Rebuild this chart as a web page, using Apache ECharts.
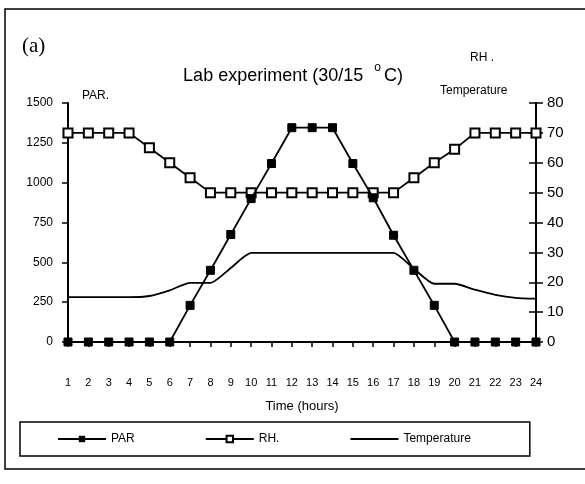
<!DOCTYPE html>
<html>
<head>
<meta charset="utf-8">
<script src="https://cdn.jsdelivr.net/npm/echarts@6/dist/echarts.min.js"></script>
<style>
  html, body { margin: 0; padding: 0; background: #fff; }
  #chart { width: 585px; height: 484px; }
</style>
</head>
<body>
<div id="chart"></div>
<script>
// hours of the day
const hours = ['1','2','3','4','5','6','7','8','9','10','11','12','13','14','15','16','17','18','19','20','21','22','23','24'];
// PAR (left axis)
const parValues = [0, 0, 0, 0, 0, 0, 230, 450, 675, 900, 1120, 1345, 1345, 1345, 1120, 905, 670, 450, 230, 0, 0, 0, 0, 0];
// RH (right axis)
const rhValues = [70, 70, 70, 70, 65, 60, 55, 50, 50, 50, 50, 50, 50, 50, 50, 50, 50, 55, 60, 64.5, 70, 70, 70, 70];
// Temperature (right axis)
const tempValues = [15, 15, 15, 15, 15.4, 17.3, 19.8, 19.8, 24.8, 29.8, 29.8, 29.8, 29.8, 29.8, 29.8, 29.8, 29.8, 24.5, 19.5, 19.5, 17.5, 15.8, 14.8, 14.5];
const leftTicks = [0, 250, 500, 750, 1000, 1250, 1500];
const rightTicks = [0, 10, 20, 30, 40, 50, 60, 70, 80];

const chart = echarts.init(document.getElementById('chart'));
const font = 'Arial, "Liberation Sans", sans-serif';

const option = {
  backgroundColor: '#fff',
  animation: false,
  textStyle: { fontFamily: font, color: '#000' },
  title: {
    text: '{a|Lab experiment (30/15  }{s|o}{a|C)}',
    left: 288,
    textAlign: 'center',
    top: 57,
    textStyle: {
      fontWeight: 'normal',
      rich: {
        a: { fontSize: 18, fontWeight: 'normal', fontFamily: font, color: '#000', verticalAlign: 'bottom' },
        s: { fontSize: 12, fontWeight: 'normal', fontFamily: font, color: '#000', padding: [0, 3, 11, 1], verticalAlign: 'bottom' }
      }
    }
  },
  grid: { left: 68, right: 49, top: 103, bottom: 142 },
  legend: {
    left: 20,
    top: 422,
    padding: [11, 59, 11, 37],
    borderColor: '#000',
    borderWidth: 1.5,
    itemWidth: 48,
    itemHeight: 8,
    itemGap: 70,
    textStyle: { fontSize: 12, color: '#000', fontFamily: font },
    data: ['PAR', 'RH.', { name: 'Temperature', itemStyle: { opacity: 0 } }]
  },
  graphic: [
    { type: 'rect', shape: { x: 5, y: 9, width: 600, height: 460 }, style: { fill: 'none', stroke: '#000', lineWidth: 1.5 } },
    { type: 'text', left: 22, top: 36, style: { text: '(a)', font: '21px "Liberation Serif", serif', fill: '#000' } },
    { type: 'text', left: 82, top: 90, style: { text: 'PAR.', font: '12px Arial, "Liberation Sans"', fill: '#000' } },
    { type: 'text', left: 470, top: 52, style: { text: 'RH .', font: '12px Arial, "Liberation Sans"', fill: '#000' } },
    { type: 'text', left: 440, top: 85, style: { text: 'Temperature', font: '12px Arial, "Liberation Sans"', fill: '#000' } }
  ],
  xAxis: {
    type: 'category',
    data: hours,
    boundaryGap: false,
    axisLine: { lineStyle: { color: '#000', width: 2 } },
    axisTick: { show: true, length: 5, lineStyle: { color: '#000', width: 1.5 } },
    axisLabel: { color: '#000', fontSize: 11, margin: 35, interval: 0, fontFamily: font },
    name: 'Time (hours)',
    nameLocation: 'middle',
    nameGap: 58,
    nameTextStyle: { fontSize: 13, color: '#000', fontFamily: font },
    splitLine: { show: false }
  },
  yAxis: [
    {
      type: 'value',
      min: leftTicks[0],
      max: leftTicks[leftTicks.length - 1],
      interval: 250,
      position: 'left',
      axisLine: { show: true, lineStyle: { color: '#000', width: 2 } },
      axisTick: { show: true, length: 6, lineStyle: { color: '#000', width: 1.5 } },
      axisLabel: { color: '#000', fontSize: 12, margin: 15, fontFamily: font, formatter: v => String(v) },
      splitLine: { show: false }
    },
    {
      type: 'value',
      min: rightTicks[0],
      max: rightTicks[rightTicks.length - 1],
      interval: 10,
      position: 'right',
      axisLine: { show: true, lineStyle: { color: '#000', width: 2 } },
      axisTick: { show: true, length: 7, lineStyle: { color: '#000', width: 1.5 } },
      axisLabel: { color: '#000', fontSize: 15, margin: 11, fontFamily: font },
      splitLine: { show: false }
    },
    {
      type: 'value',
      min: rightTicks[0],
      max: rightTicks[rightTicks.length - 1],
      interval: 10,
      position: 'right',
      axisLine: { show: false },
      axisTick: { show: true, inside: true, length: 7, lineStyle: { color: '#000', width: 1.5 } },
      axisLabel: { show: false },
      splitLine: { show: false }
    }
  ],
  series: [
    {
      name: 'PAR',
      type: 'line',
      yAxisIndex: 0,
      data: parValues,
      symbol: 'rect',
      symbolSize: 8,
      itemStyle: { color: '#000', borderColor: '#000' },
      lineStyle: { color: '#000', width: 1.8 },
      z: 4
    },
    {
      name: 'RH.',
      type: 'line',
      yAxisIndex: 1,
      data: rhValues,
      symbol: 'rect',
      symbolSize: 9,
      showAllSymbol: true,
      itemStyle: { color: '#fff', borderColor: '#000', borderWidth: 2 },
      lineStyle: { color: '#000', width: 1.8 },
      z: 3
    },
    {
      name: 'Temperature',
      type: 'line',
      yAxisIndex: 1,
      data: tempValues,
      symbol: 'none',
      smooth: 0.2,
      itemStyle: { color: '#000' },
      lineStyle: { color: '#000', width: 1.8 },
      z: 2
    }
  ]
};

chart.setOption(option);
</script>
</body>
</html>
